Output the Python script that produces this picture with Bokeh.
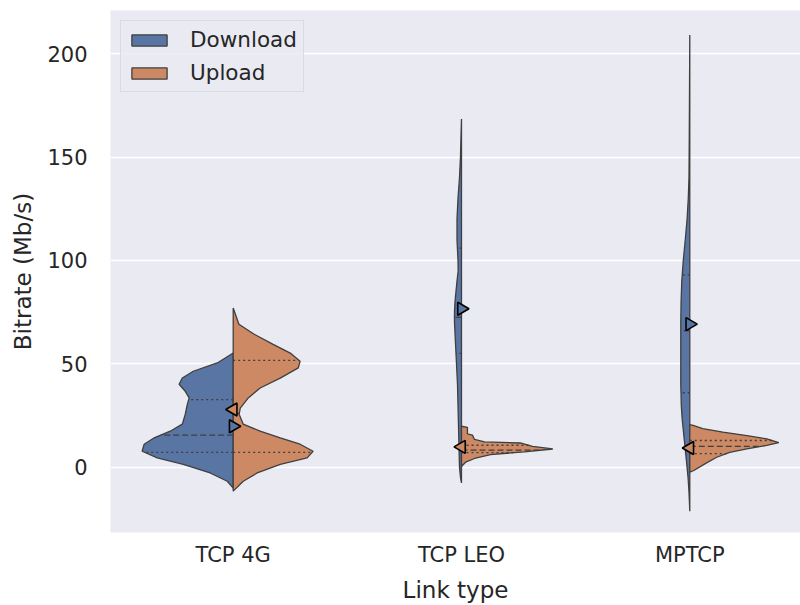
import numpy as np
from bokeh.plotting import figure
from bokeh.models import Legend, LegendItem, FixedTicker
from bokeh.embed import file_html
from bokeh.resources import INLINE

categories = ["TCP 4G", "TCP LEO", "MPTCP"]

# ---- violin outlines: value (Mb/s) and half-width (category units) ----
dl_4g_y = [55.2, 50.4, 46.4, 43.1, 40.1, 36.7, 33.5, 30.4, 25.6, 20.8, 17.4, 14.2, 11.1, 7.7, 4.5, 1.4, -2.8, -6.8, -10.1]
dl_4g_w = [0, 0.070, 0.175, 0.223, 0.237, 0.210, 0.193, 0.201, 0.210, 0.223, 0.276, 0.346, 0.390, 0.399, 0.333, 0.219, 0.101, 0.026, 0]
ul_4g_y = [77.0, 69.1, 64.3, 59.4, 55.2, 51.2, 48.0, 43.1, 38.3, 33.5, 28.6, 25.6, 20.8, 17.4, 14.2, 11.1, 7.7, 4.5, 1.4, -2.8, -6.8, -11.6]
ul_4g_w = [0, 0.025, 0.092, 0.175, 0.250, 0.293, 0.285, 0.206, 0.118, 0.066, 0.031, 0.026, 0.044, 0.118, 0.206, 0.293, 0.350, 0.324, 0.206, 0.105, 0.044, 0]

dl_leo_y = [168.4, 160, 150, 140, 130, 120, 110, 100, 95, 90, 80, 75, 70, 60, 50, 40, 30, 20, 10, 0, -5, -7.6]
dl_leo_w = [0, 0.0022, 0.0044, 0.0088, 0.0153, 0.0197, 0.0197, 0.0153, 0.0145, 0.0197, 0.0285, 0.0307, 0.0307, 0.0263, 0.0219, 0.0175, 0.0153, 0.0131, 0.0110, 0.0088, 0.0044, 0]
ul_leo_y = [19.8, 19.3, 16.1, 15.5, 13.4, 12.2, 11.7, 10.1, 8.8, 7.4, 6.1, 4.2, 2.4, 0.8, 0.3]
ul_leo_w = [0, 0.026, 0.026, 0.048, 0.057, 0.101, 0.258, 0.311, 0.400, 0.276, 0.127, 0.057, 0.018, 0.004, 0]

dl_mp_y = [209, 180, 160, 140, 130, 120, 110, 100, 90, 80, 70, 60, 50, 40, 30, 23.8, 14.2, 2.9, -5.2, -12, -21.3]
dl_mp_w = [0, 0.0013, 0.0022, 0.0035, 0.0066, 0.0118, 0.0197, 0.0285, 0.035, 0.0381, 0.0394, 0.0394, 0.0394, 0.0394, 0.0372, 0.0337, 0.025, 0.0145, 0.0074, 0.0035, 0]
ul_mp_y = [20.6, 20.2, 18.6, 17.0, 15.3, 13.7, 11.9, 10.5, 8.9, 7.2, 4.8, 1.6, -1.6, -2.4]
ul_mp_w = [0, 0.0145, 0.057, 0.145, 0.250, 0.337, 0.390, 0.337, 0.250, 0.175, 0.118, 0.066, 0.018, 0]

# quartiles (q1, median, q3)
dl_quart = [[7.2, 15.5, 32.7], [55.0, 72.5, 106.0], [36.0, 66.0, 93.0]]
ul_quart = [[7.2, 26.0, 51.7], [7.0, 8.2, 10.6], [6.6, 10.1, 12.9]]

# means
dl_mean = [19.8, 76.6, 69.2]
ul_mean = [27.9, 9.8, 9.3]

BLUE = "#5975A4"
ORANGE = "#CC8963"
EDGE = "#3F3F3F"
TXT = "#262626"
FONT = "DejaVu Sans"

p = figure(width=800, height=605, output_backend="svg", toolbar_location=None,
           x_range=(-0.5375, 2.485), y_range=(-31.6, 220.9),
           min_border_left=110, min_border_right=0, min_border_top=10, min_border_bottom=73)
p.background_fill_color = "#EAEAF2"
p.border_fill_color = "white"
p.outline_line_color = None
p.xgrid.grid_line_color = None
p.ygrid.grid_line_color = "white"
p.ygrid.grid_line_width = 1.5
p.yaxis.ticker = FixedTicker(ticks=[0, 50, 100, 150, 200])
p.xaxis.ticker = FixedTicker(ticks=[0, 1, 2])
p.xaxis.major_label_overrides = {i: c for i, c in enumerate(categories)}
for ax in (p.xaxis, p.yaxis):
    ax.axis_line_color = None
    ax.major_tick_line_color = None
    ax.minor_tick_line_color = None
    ax.major_tick_out = 0
    ax.major_tick_in = 0
    ax.major_label_text_font = FONT
    ax.major_label_text_font_size = "21px"
    ax.major_label_text_color = TXT
    ax.axis_label_text_font = FONT
    ax.axis_label_text_font_size = "23px"
    ax.axis_label_text_font_style = "normal"
    ax.axis_label_text_color = TXT
p.yaxis.major_label_standoff = 23
p.xaxis.major_label_standoff = 10
p.yaxis.axis_label = "Bitrate (Mb/s)"
p.yaxis.axis_label_standoff = 8
p.xaxis.axis_label = "Link type"
p.xaxis.axis_label_standoff = 7

dl_ys = [dl_4g_y, dl_leo_y, dl_mp_y]
dl_ws = [dl_4g_w, dl_leo_w, dl_mp_w]
ul_ys = [ul_4g_y, ul_leo_y, ul_mp_y]
ul_ws = [ul_4g_w, ul_leo_w, ul_mp_w]

dl_r = ul_r = None
for i in range(3):
    ys, ws = np.array(dl_ys[i]), np.array(dl_ws[i])
    r = p.patch(i - ws, ys, fill_color=BLUE, line_color=EDGE, line_width=1.3)
    dl_r = dl_r or r
    ys2, ws2 = np.array(ul_ys[i]), np.array(ul_ws[i])
    r2 = p.patch(i + ws2, ys2, fill_color=ORANGE, line_color=EDGE, line_width=1.3)
    ul_r = ul_r or r2
    # quartile lines
    for side, ysv, wsv, qs in ((-1, ys, ws, dl_quart[i]), (1, ys2, ws2, ul_quart[i])):
        order = np.argsort(ysv)
        for k, q in enumerate(qs):
            w = np.interp(q, ysv[order], wsv[order])
            dash = "6 3" if k == 1 else "2 3"
            p.line([i, i + side * w], [q, q], line_color=EDGE, line_width=1.3, line_dash=dash)

xs = list(range(3))
p.scatter(xs, dl_mean, marker="triangle", angle=-np.pi / 2, size=13,
          fill_color=BLUE, line_color="black", line_width=1.6)
p.scatter(xs, ul_mean, marker="triangle", angle=np.pi / 2, size=13,
          fill_color=ORANGE, line_color="black", line_width=1.6)

legend = Legend(items=[LegendItem(label="Download", renderers=[dl_r]),
                       LegendItem(label="Upload", renderers=[ul_r])],
                location="top_left")
legend.margin = 10
legend.padding = 6
legend.spacing = 8
legend.glyph_width = 44
legend.glyph_height = 14
legend.label_height = 25
legend.label_standoff = 19
legend.label_text_font = FONT
legend.label_text_font_size = "21.5px"
legend.label_text_color = TXT
legend.background_fill_color = "#EAEAF2"
legend.background_fill_alpha = 0.8
legend.border_line_color = "#CCCCCC"
legend.border_line_width = 1
p.add_layout(legend)

open("out.html", "w").write(file_html(p, INLINE))
